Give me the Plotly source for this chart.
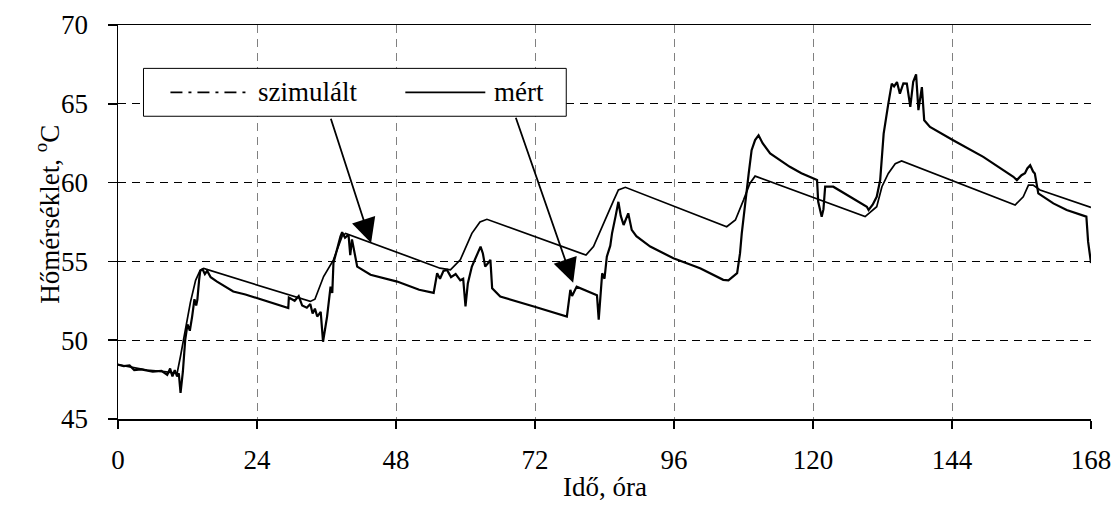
import plotly.graph_objects as go

# ---- data (hours, °C) ----
sim_t = [0, 2, 5, 8, 10.2, 10.8, 11.6, 12.5, 13.4, 14.2, 14.8, 33.2, 34.0, 35.5, 37.2, 38.7, 39.3,
         55.6, 57.4, 59.1, 61.1, 62.5, 63.7, 80.8, 82.1, 83.8, 85.6, 86.4, 87.6,
         105.1, 106.6, 108.0, 109.1, 110.0, 129.0, 131.0, 131.9, 133.0, 134.2, 135.3,
         154.9, 156.3, 157.2, 158.0, 159.2, 168]
sim_v = [48.45, 48.3, 48.1, 48.0, 47.9, 49.0, 50.5, 52.4, 53.8, 54.45, 54.55, 52.46, 52.6, 54.04, 55.1, 56.6, 56.78,
         54.57, 54.46, 55.1, 56.78, 57.5, 57.67, 55.4, 55.94, 57.42, 58.89, 59.53, 59.7,
         57.2, 57.63, 58.89, 59.95, 60.41, 57.84, 58.47, 59.74, 60.58, 61.2, 61.38,
         58.58, 59.1, 59.84, 59.84, 59.53, 58.43]

mes_t = [0, 1, 2, 2.8, 4, 6, 7.5, 8.5, 9, 9.4, 9.8, 10.2, 10.5, 10.8, 11.2, 11.6, 12.0, 12.4, 12.8, 13.2,
         13.5, 13.7, 14.0, 14.2, 14.6, 15.0, 15.4, 16.0, 17.1, 19.9, 22, 24, 27, 29.4, 29.5, 30.5, 31.2,
         31.8, 32.6, 33.2, 33.6, 34.0, 34.4, 35.0, 35.4, 35.8, 36.1, 36.7, 37.0, 37.2, 37.8, 38.4, 38.7,
         39.2, 39.8, 40.1, 40.4, 41.3, 43.6, 48.2, 52, 54.5, 55.1, 55.6, 56.2, 56.8, 57.5, 58.3, 59.1,
         59.6, 60.0, 60.4, 61.1, 61.7, 62.3, 62.6, 63.0, 63.4, 63.9, 64.3, 64.6, 66.0, 71.8, 77.5, 78.1,
         78.4, 79.2, 79.8, 81, 82.7, 83.0, 83.6, 84.0, 84.4, 85.0, 85.3, 85.9, 86.4, 86.8, 87.3, 88.1,
         88.7, 89.5, 91.9, 95.9, 100.5, 104.5, 105.4, 106.9, 107.4, 107.7, 108.3, 108.9, 109.4, 110.0,
         110.6, 111.3, 112.6, 116, 118, 120.7, 120.9, 121.5, 121.8, 122.1, 123.5, 124.1, 126.4, 129.3,
         129.6, 130.3, 131.0, 131.6, 132.2, 133.0, 133.6, 134.0, 134.5, 135.0, 135.6, 136.2, 136.8,
         137.3, 137.8, 138.2, 138.8, 139.2, 140.2, 144.2, 149.4, 154.6, 155.2, 156.0, 156.6, 157.0,
         157.5, 158.0, 158.3, 158.9, 161.5, 163.8, 167.2, 167.5, 168]
mes_v = [48.45, 48.35, 48.4, 48.1, 48.15, 48.0, 48.05, 47.8, 48.2, 47.7, 48.1, 47.7, 47.9, 46.65, 48.0, 50.0,
         51.0, 50.6, 51.5, 52.6, 52.2, 52.56, 53.8, 54.4, 54.5, 54.2, 54.4, 54.0, 53.72, 53.09, 52.9, 52.67,
         52.3, 52.04, 52.7, 52.5, 52.8, 52.2, 52.06, 52.3, 51.7, 52.0, 51.5, 51.8, 49.9, 50.8, 51.5, 53.4,
         53.0, 54.9, 55.8, 56.57, 56.85, 56.5, 56.7, 55.4, 56.4, 54.67, 54.15, 53.72, 53.2, 53.0, 54.25,
         53.9, 54.4, 54.46, 54.0, 54.2, 53.8, 53.9, 52.14, 53.6, 54.67, 55.2, 55.73, 55.94, 55.5, 54.67,
         54.9, 55.1, 53.3, 52.77, 52.14, 51.5, 53.2, 52.8, 53.4, 53.3, 53.1, 52.85, 51.3, 54.25, 53.9,
         55.3, 56.0, 56.78, 57.84, 58.78, 57.9, 57.31, 58.05, 57.0, 56.6, 55.94, 55.2, 54.57, 53.83, 53.8,
         54.25, 55.52, 56.78, 58.89, 60.58, 62.06, 62.7, 63.0, 62.5, 61.85, 61.0, 60.6, 60.16, 58.78,
         57.84, 58.3, 59.74, 59.74, 59.6, 59.1, 58.47, 58.26, 58.6, 59.1, 60.16, 63.11, 65.0, 66.28, 66.1,
         66.38, 65.64, 66.3, 66.28, 64.8, 66.4, 66.87, 64.6, 66.06, 63.96, 63.53, 62.69, 61.63, 60.37,
         60.16, 60.47, 60.6, 60.9, 61.1, 60.7, 60.58, 59.32, 58.68, 58.26, 57.84, 56.25, 54.9]

x_ticks = [0, 24, 48, 72, 96, 120, 144, 168]
y_ticks = [45, 50, 55, 60, 65, 70]
sim_name = "szimulált"
mes_name = "mért"
x_title = "Idő, óra"
y_title = "Hőmérséklet, <sup>o</sup>C"

FONT = "Liberation Serif, Times New Roman, serif"
FS = 27
TXT = dict(family=FONT, size=FS, color="black")

fig = go.Figure()
fig.add_trace(go.Scatter(x=sim_t, y=sim_v, mode="lines", name=sim_name, showlegend=False,
                         line=dict(color="black", width=1.7)))
fig.add_trace(go.Scatter(x=mes_t, y=mes_v, mode="lines", name=mes_name, showlegend=False,
                         line=dict(color="black", width=2.2)))

# manual legend box
lx0, lx1, ly0, ly1 = 0.0262, 0.4607, 0.7684, 0.8899
ly = 0.829
fig.add_shape(type="rect", xref="paper", yref="paper", x0=lx0, x1=lx1, y0=ly0, y1=ly1,
              fillcolor="white", line=dict(color="black", width=1), layer="above")
fig.add_shape(type="line", xref="paper", yref="paper", x0=0.0539, x1=0.1362, y0=ly, y1=ly,
              line=dict(color="black", width=1.8, dash="12px,6px,3px,6px"), layer="above")
fig.add_shape(type="line", xref="paper", yref="paper", x0=0.2953, x1=0.3775, y0=ly, y1=ly,
              line=dict(color="black", width=1.8), layer="above")

annotations = [
    dict(text=sim_name, xref="paper", yref="paper", x=0.1423, y=ly, xanchor="left", yanchor="middle",
         showarrow=False, font=dict(TXT)),
    dict(text=mes_name, xref="paper", yref="paper", x=0.3848, y=ly, xanchor="left", yanchor="middle",
         showarrow=False, font=dict(TXT)),
    dict(text=x_title, xref="paper", yref="paper", x=0.5, y=-0.173, xanchor="center", yanchor="middle",
         showarrow=False, font=dict(TXT)),
    dict(text=y_title, xref="paper", yref="paper", x=-0.0724, y=0.52, xanchor="center", yanchor="middle",
         textangle=-90, showarrow=False, font=dict(TXT)),
    dict(text="", x=43.7, y=56.17, xref="x", yref="y", ax=36.67, ay=64.15, axref="x", ayref="y",
         showarrow=True, arrowhead=2, arrowsize=2.7, arrowwidth=1.8, arrowcolor="black"),
    dict(text="", x=78.59, y=53.64, xref="x", yref="y", ax=68.6, ay=64.21, axref="x", ayref="y",
         showarrow=True, arrowhead=2, arrowsize=2.7, arrowwidth=1.8, arrowcolor="black"),
]

fig.update_layout(
    width=1115, height=515, autosize=False,
    margin=dict(l=117.5, r=24, t=24.5, b=95.5, autoexpand=False),
    paper_bgcolor="white", plot_bgcolor="white",
    font=dict(TXT),
    showlegend=False,
    annotations=annotations,
)
fig.update_xaxes(range=[0, 168], tickvals=x_ticks, ticktext=[str(v) for v in x_ticks],
                 showline=True, linecolor="black", linewidth=1.5, mirror=True,
                 ticks="outside", ticklen=8, tickwidth=1.5, tickcolor="black",
                 showgrid=True, gridcolor="#808080", gridwidth=1, griddash="8px,6px",
                 zeroline=False, ticklabelstandoff=8, automargin=False,
                 tickfont=dict(TXT))
fig.update_yaxes(range=[45, 70], tickvals=y_ticks, ticktext=[str(v) for v in y_ticks],
                 showline=True, linecolor="black", linewidth=1.5, mirror=False,
                 ticks="outside", ticklen=9, tickwidth=1.5, tickcolor="black",
                 showgrid=True, gridcolor="black", gridwidth=1, griddash="8px,6px",
                 zeroline=False, ticklabelstandoff=14, automargin=False,
                 tickfont=dict(TXT))

fig.write_html(
    "out.html",
    config={"displayModeBar": False, "staticPlot": True},
    post_script="document.body.style.margin='0';document.body.style.overflow='hidden';"
                "document.documentElement.style.overflow='hidden';",
)
